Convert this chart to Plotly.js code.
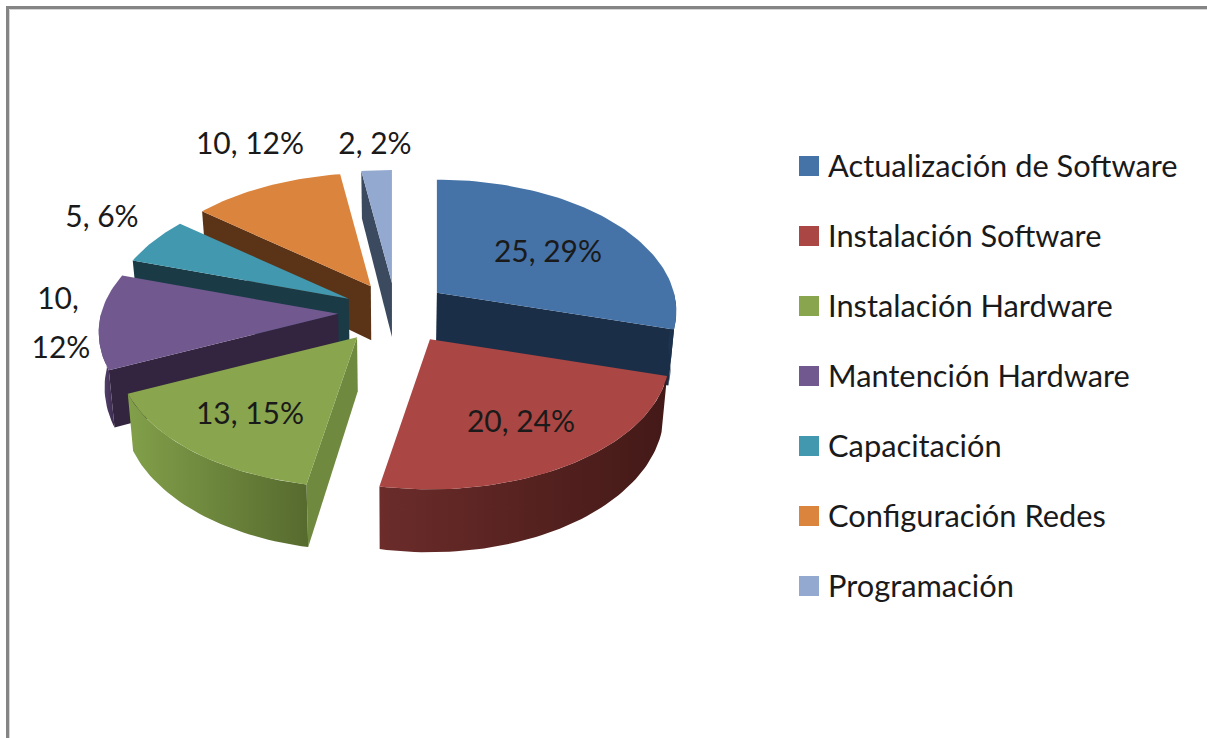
<!DOCTYPE html>
<html>
<head>
<meta charset="utf-8">
<script src="https://cdn.plot.ly/plotly-3.0.1.min.js"></script>
<style>html,body{margin:0;padding:0;background:#fff;overflow:hidden}#c{width:1207px;height:738px}</style>
</head>
<body>
<div id="c"></div>
<script>
// ---- data ----
const categories = ["Actualización de Software","Instalación Software","Instalación Hardware","Mantención Hardware","Capacitación","Configuración Redes","Programación"];
const values = [25,20,13,10,5,10,2];
const topColors  = ["#4572a7","#aa4643","#89a54e","#71588f","#4198af","#db843d","#93a9cf"];
const faceColors = ["#1b2e47","#451a18","#6f8a3f","#33243f","#1a3a46","#5b3316","#3b4a5e"];
const wallLeft   = ["#1e3450","#6b2c2a","#82a04a","#5f4a7a","#1f4552","#6b3d1a","#455770"];
const wallRight  = ["#1b2e47","#431917","#566a2e","#3b2b4d","#1a3a46","#5b3316","#3b4a5e"];

// ---- projection of the exploded disc ----
const view = {cx:393, cy:312, a:237, b:129, k:0.141, ex:55, ey:32, depth:54, shrink:0.98};
const nudgeX = [0,8,-2,0,4,5,3];
const nudgeY = [0,0,0,0,2,2,3];
const total = values.reduce((p,c)=>p+c,0);
const deg = Math.PI/180;

function point(apex, th, r){
  const u = Math.sin(th*deg)*r, v = -Math.cos(th*deg)*r;
  const s = 1/(1 - view.k*v);
  return [apex[0]+view.a*u*s, apex[1]+view.b*v*s, s];
}
function lower(p){
  return [view.cx+(p[0]-view.cx)*view.shrink, p[1]+view.depth*p[2]];
}
function arc(apex, t0, t1){
  const pts=[], n=Math.max(2,Math.ceil(Math.abs(t1-t0)/1.5));
  for(let i=0;i<=n;i++) pts.push(point(apex,t0+(t1-t0)*i/n,1));
  return pts;
}
function poly(pts, color, gradient, name){
  const xs=pts.map(p=>p[0]), ys=pts.map(p=>p[1]);
  xs.push(xs[0]); ys.push(ys[0]);
  const t={x:xs,y:ys,type:'scatter',mode:'lines',line:{width:0,color:color},fill:'toself',
    showlegend:false,hoverinfo:name?'text':'skip',text:name||'',hoveron:'fills'};
  if(gradient) t.fillgradient={type:'horizontal',colorscale:[[0,gradient[0]],[1,gradient[1]]]};
  else t.fillcolor=color;
  return t;
}

// ---- slices ----
let acc=0;
const slices=values.map((v,i)=>{
  const t0=acc/total*360; acc+=v; const t1=acc/total*360, mid=(t0+t1)/2;
  const apex=[view.cx+view.ex*Math.sin(mid*deg)+nudgeX[i], view.cy-view.ey*Math.cos(mid*deg)+nudgeY[i]];
  return {i,t0,t1,apex};
});
const paintOrder=[6,5,4,3,0,2,1];
const traces=[];
paintOrder.forEach(idx=>{
  const s=slices[idx], apexP=[s.apex[0],s.apex[1],1];
  const face=th=>{
    const e=point(s.apex,th,1);
    return [apexP,e,lower(e),lower(apexP)];
  };
  if(Math.sin(s.t1*deg)>0) traces.push(poly(face(s.t1),faceColors[idx]));
  if(Math.sin(s.t0*deg)<0) traces.push(poly(face(s.t0),faceColors[idx]));
  const a0=Math.max(s.t0,90), a1=Math.min(s.t1,270);
  if(a1>a0){
    const top=arc(s.apex,a0,a1);
    const wall=top.concat(top.slice().reverse().map(lower));
    traces.push(poly(wall,wallRight[idx],[wallLeft[idx],wallRight[idx]]));
  }
  const label=categories[idx]+': '+values[idx];
  traces.push(poly([apexP].concat(arc(s.apex,s.t0,s.t1)),topColors[idx],null,label));
});

// ---- data labels ----
const pct=values.map(v=>Math.round(100*v/total)+'%');
const labelText=[`${values[0]}, ${pct[0]}`,`${values[1]}, ${pct[1]}`,`${values[2]}, ${pct[2]}`,`${values[3]},`,pct[3],`${values[4]}, ${pct[4]}`,`${values[5]}, ${pct[5]}`,`${values[6]}, ${pct[6]}`];
const labelX=[548,521,250,58,61,102,250,375];
const labelY=[254,424,416,301,350,219,146,146];
const labelFont={family:'Lato, "Open Sans", sans-serif',size:30,color:'#1a1a1a'};
const legendFont={family:'Lato, "Open Sans", sans-serif',size:30.8,color:'#1a1a1a'};
traces.push({x:labelX,y:labelY,text:labelText,type:'scatter',mode:'text',textposition:'middle center',
  textfont:labelFont,showlegend:false,hoverinfo:'skip'});

// ---- legend ----
const legendSwatchX=809, legendTextX=828, legendTop=166, legendStep=70, legendTextDrop=3;
const legendY=categories.map((c,i)=>legendTop+i*legendStep);
traces.push({x:categories.map(()=>legendSwatchX),y:legendY,type:'scatter',mode:'markers',
  marker:{symbol:'square',size:20,color:topColors},showlegend:false,hoverinfo:'skip'});
traces.push({x:categories.map(()=>legendTextX),y:legendY.map(y=>y+legendTextDrop),text:categories,type:'scatter',mode:'text',textposition:'middle right',
  textfont:legendFont,showlegend:false,hoverinfo:'skip'});

const layout={
  width:1207,height:738,margin:{l:0,r:0,t:0,b:0},paper_bgcolor:'#fff',plot_bgcolor:'#fff',showlegend:false,
  xaxis:{range:[0,1207],visible:false,fixedrange:true},
  yaxis:{range:[738,0],visible:false,fixedrange:true},
  shapes:[
    {type:'path',path:'M 7.5 738 L 7.5 7.5 L 1207 7.5',line:{color:'#858585',width:3}},
    {type:'path',path:'M 9.5 738 L 9.5 9.5 L 1207 9.5',line:{color:'#d6d6d6',width:1}}
  ]
};
Plotly.newPlot('c',traces,layout,{displayModeBar:false,responsive:false});
</script>
</body>
</html>
